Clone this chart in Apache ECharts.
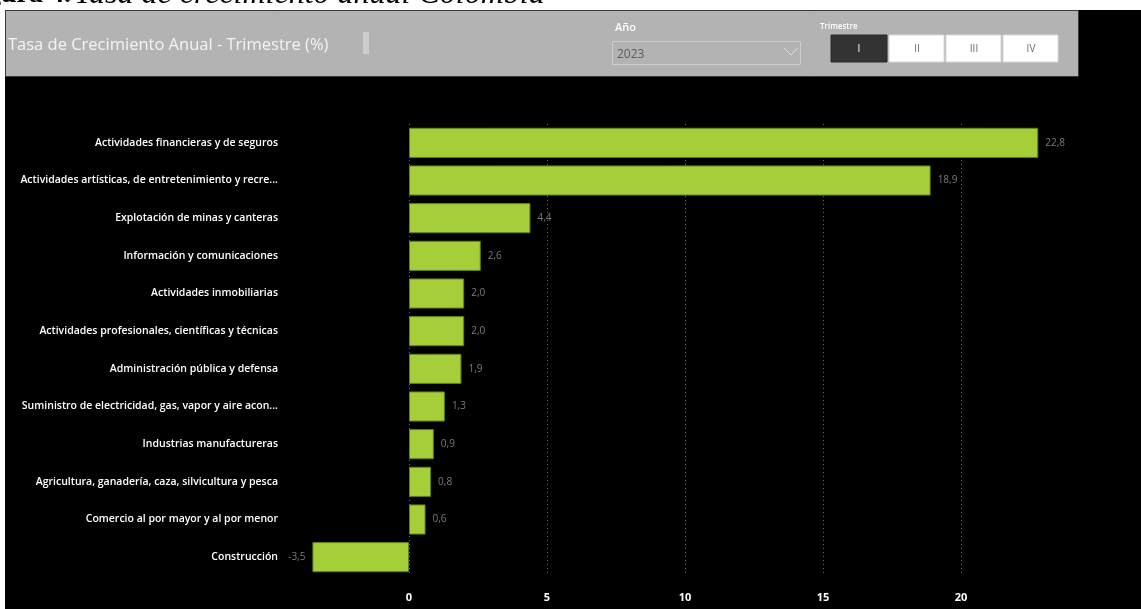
<!DOCTYPE html>
<html>
<head>
<meta charset="utf-8">
<script src="https://cdn.jsdelivr.net/npm/echarts@6/dist/echarts.min.js"></script>
<style>
  html, body { margin: 0; padding: 0; background: #fff; }
  #main { width: 1141px; height: 609px; }
</style>
</head>
<body>
<div id="main"></div>
<script>
var categories = [
  'Actividades financieras y de seguros',
  'Actividades artísticas, de entretenimiento y recre...',
  'Explotación de minas y canteras',
  'Información y comunicaciones',
  'Actividades inmobiliarias',
  'Actividades profesionales, científicas y técnicas',
  'Administración pública y defensa',
  'Suministro de electricidad, gas, vapor y aire acon...',
  'Industrias manufactureras',
  'Agricultura, ganadería, caza, silvicultura y pesca',
  'Comercio al por mayor y al por menor',
  'Construcción'
];
var growth = [22.8, 18.9, 4.4, 2.6, 2.0, 2.0, 1.9, 1.3, 0.9, 0.8, 0.6, -3.5];
var xTicks = [0, 5, 10, 15, 20];
var trimestres = ['I', 'II', 'III', 'IV'];

var dom = document.getElementById('main');
var myChart = echarts.init(dom);

var fontUI = '"Open Sans", "Noto Sans", sans-serif';

// bars, negative one gets its label on the left
var barData = growth.map(function (v) {
  return {
    value: v,
    label: { position: v < 0 ? 'left' : 'right' }
  };
});

// header buttons for the quarter slicer
var btnX = [831, 889, 946, 1003];
var buttons = [];
trimestres.forEach(function (t, i) {
  var active = i === 0;
  buttons.push({
    type: 'rect',
    shape: { x: btnX[i], y: 35, width: i === 0 ? 56 : 55, height: 27 },
    style: { fill: active ? '#333333' : '#ffffff', stroke: active ? '#2a2a2a' : '#d9d9d9', lineWidth: 1 },
    z: 5
  });
  buttons.push({
    type: 'text',
    x: btnX[i] + 28, y: 49,
    style: {
      text: t, fill: active ? '#ffffff' : '#6a6a6a',
      font: '10px ' + fontUI, align: 'center', verticalAlign: 'middle'
    },
    z: 6
  });
});

var option = {
  backgroundColor: '#ffffff',
  animation: false,
  graphic: [
    { type: 'rect', shape: { x: 5, y: 10, width: 1136, height: 599 }, style: { fill: '#000000' }, z: 0, silent: true },
    { type: 'rect', shape: { x: 5.5, y: 10.5, width: 1073, height: 66 }, style: { fill: '#b3b3b3', stroke: '#3a3a3a', lineWidth: 1 }, z: 1 },
    {
      // document caption, mostly cut off by the top of the page
      type: 'text', x: -38, y: 11, z: 10,
      style: {
        text: '{b|Figura 4.} {i|Tasa de crecimiento anual Colombia}',
        verticalAlign: 'bottom',
        rich: {
          b: { font: 'bold 28px "Liberation Serif", serif', fill: '#000', lineHeight: 32 },
          i: { font: 'italic 32px "Liberation Serif", serif', fill: '#000', lineHeight: 32 }
        }
      }
    },
    {
      type: 'text', x: 8, y: 45, z: 5,
      style: { text: 'Tasa de Crecimiento Anual - Trimestre (%)', fill: '#f4f4f4', font: '16.5px ' + fontUI, verticalAlign: 'middle' }
    },
    { type: 'rect', shape: { x: 363, y: 32, width: 6, height: 22 }, style: { fill: '#cdcdcd' }, z: 5 },
    {
      type: 'text', x: 615, y: 28, z: 5,
      style: { text: 'Año', fill: '#ffffff', font: '600 11px ' + fontUI, verticalAlign: 'middle' }
    },
    { type: 'rect', shape: { x: 612.5, y: 41.5, width: 188, height: 23 }, style: { fill: 'none', stroke: '#cdcdcd', lineWidth: 1 }, z: 5 },
    {
      type: 'text', x: 617, y: 55, z: 5,
      style: { text: '2023', fill: '#5a5a5a', font: '12px ' + fontUI, verticalAlign: 'middle' }
    },
    { type: 'polyline', shape: { points: [[784, 48], [791, 55], [798, 48]] }, style: { stroke: '#dadada', lineWidth: 1, fill: 'none' }, z: 5 },
    {
      type: 'text', x: 820, y: 27, z: 5,
      style: { text: 'Trimestre', fill: '#ffffff', font: '600 8px ' + fontUI, verticalAlign: 'middle' }
    }
  ].concat(buttons),
  grid: {
    left: 271,
    right: 42,
    top: 124,
    bottom: 33
  },
  xAxis: {
    type: 'value',
    min: -5,
    max: 25,
    interval: 5,
    axisLine: { show: false },
    axisTick: { show: false },
    axisLabel: {
      color: '#ffffff',
      fontFamily: fontUI,
      fontWeight: 'bold',
      fontSize: 11,
      margin: 16,
      formatter: function (v) {
        return xTicks.indexOf(v) >= 0 ? String(v) : '';
      }
    },
    splitLine: {
      show: true,
      lineStyle: {
        type: [1, 3],
        width: 1,
        color: ['rgba(0,0,0,0)', '#6a6a6a', '#6a6a6a', '#6a6a6a', '#6a6a6a', '#6a6a6a', 'rgba(0,0,0,0)']
      }
    }
  },
  yAxis: {
    type: 'category',
    data: categories,
    inverse: true,
    axisLine: { show: false, onZero: false },
    axisTick: { show: false },
    axisLabel: {
      color: '#ffffff',
      fontFamily: fontUI,
      fontWeight: 600,
      fontSize: 10.5,
      margin: -7
    }
  },
  series: [
    {
      type: 'bar',
      data: barData,
      barCategoryGap: '20%',
      itemStyle: {
        color: '#a6ce39',
        borderColor: '#5f7f1c',
        borderWidth: 1
      },
      label: {
        show: true,
        distance: 7,
        color: '#7a7a7a',
        fontFamily: fontUI,
        fontSize: 10,
        formatter: function (p) {
          return p.value.toFixed(1).replace('.', ',');
        }
      }
    }
  ]
};

if (option && typeof option === 'object') {
  myChart.setOption(option);
}

window.onresize = function () {
  myChart.resize();
};
</script>
</body>
</html>
